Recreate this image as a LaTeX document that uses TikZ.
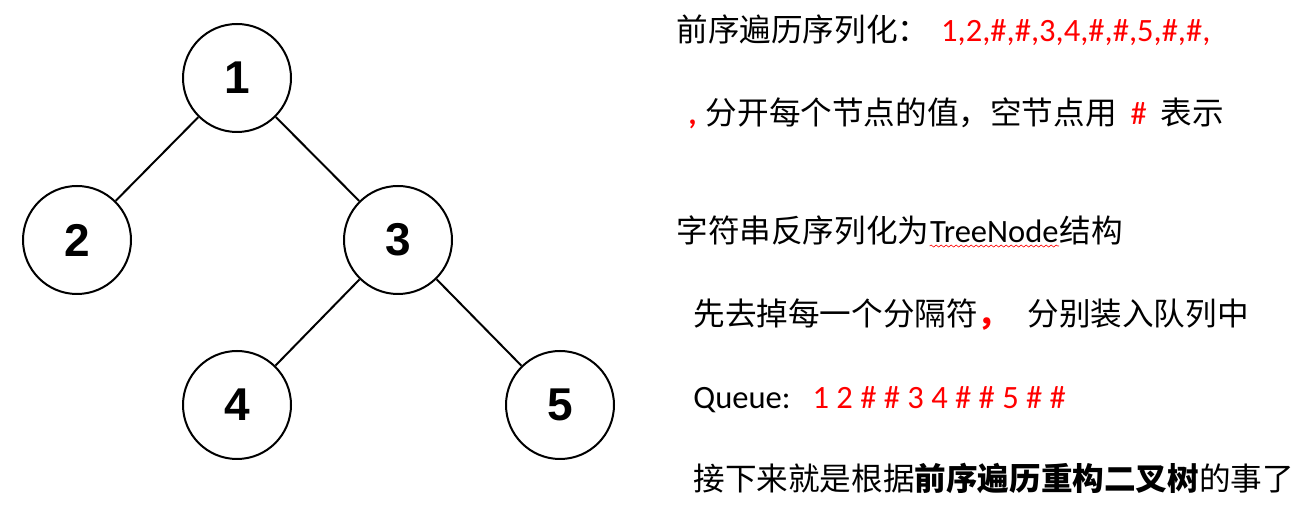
\documentclass[tikz,border=0pt]{standalone}
\usepackage{fontspec}
\setmainfont{Carlito}[Scale=1.03]
\newfontfamily\cjk{Noto Sans CJK SC}
\newfontfamily\digitfont{Liberation Sans}
\newcommand{\latn}[1]{{\normalfont #1}}
\usetikzlibrary{decorations.pathmorphing}

\begin{document}
\begin{tikzpicture}[
            x = 0.5pt, y = -0.5pt,
            vtx/.style = {draw, circle, line width = 1pt, minimum size = 54pt, inner sep = 0pt,
              font = \digitfont\bfseries\fontsize{23}{23}\selectfont},
            edge/.style = {draw, line width = 1pt},
            txt/.style = {anchor = west, inner sep = 0pt, font = \cjk\fontsize{15.8}{18}\selectfont},
            part/.style = {anchor = base west, inner sep = 0pt, font = \cjk\fontsize{15.8}{18}\selectfont},
          ]
          \useasboundingbox (0,0) rectangle (1311,517);
          % tree
          \node[vtx] (1) at (237,78) {1};
          \node[vtx] (2) at (77,240) {2};
          \node[vtx] (3) at (398,240) {3};
          \node[vtx] (4) at (237,405) {4};
          \node[vtx] (5) at (560,405) {5};
          \foreach \a/\b in {1/2, 1/3, 3/4, 3/5}
            \draw[edge] (\a) -- (\b);
          % notes
          \node[txt] (pre) at (676,30) {前序遍历序列化：\hspace{6pt}\textcolor{red}{\latn{1,2,\#,\#,3,4,\#,\#,5,\#,\#,}}};
          \node[txt] (sep) at (688,113) {\textcolor{red}{\latn{\bfseries,}}\hspace{4.5pt}分开每个节点的值，空节点用\hspace{7pt}\textcolor{red}{\latn{\#}}\hspace{7pt}表示};
          \node[txt] (deser) at (676,230) {字符串反序列化为};
          \node[part] (tn) at (deser.base east) {\latn{TreeNode}};
          \node[part] (struct) at (tn.base east) {结构};
          \draw[red, line width = 0.3pt, decorate, decoration = {snake, amplitude = 0.5pt, segment length = 2.5pt}]
            ([yshift=-2pt]tn.base west) -- ([yshift=-2pt]tn.base east);
          \node[txt] (split) at (693,315) {先去掉每一个分隔符\textcolor{red}{\bfseries ，}\hspace{9pt}分别装入队列中};
          \node[txt] (queue) at (693,400) {\latn{Queue:}\hspace{11pt}\textcolor{red}{\latn{1 2 \# \# 3 4 \# \# 5 \# \#}}};
          \node[txt] (rebuild) at (693,478) {接下来就是根据{\bfseries 前序遍历重构二叉树}的事了};
        \end{tikzpicture}
\end{document}
